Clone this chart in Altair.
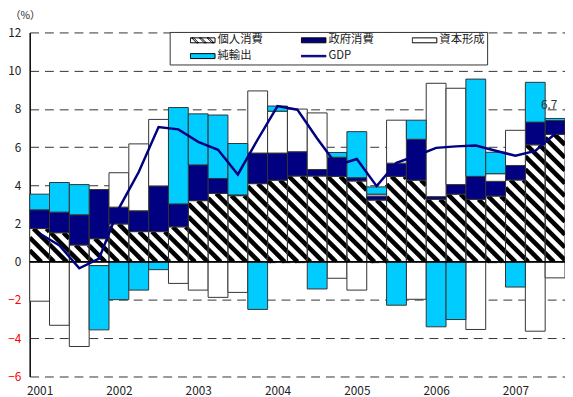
import altair as alt
import pandas as pd
import numpy as np

FONT = "Noto Sans CJK JP"

# ---- data (2001Q1 .. 2007Q3), contribution to growth, % ----
quarters = list(range(27))
series = ["個人消費", "政府消費", "資本形成", "純輸出"]
private_consumption = [1.74, 1.52, 0.88, 1.21, 1.98, 1.58, 1.58, 1.83, 3.20, 3.58,
                       3.46, 4.09, 4.27, 4.49, 4.49, 4.47, 4.23, 3.23, 4.47, 4.27,
                       3.27, 3.54, 3.27, 3.44, 4.28, 6.12, 6.67]
government_consumption = [0.98, 1.08, 1.58, 2.57, 0.88, 1.09, 2.39, 1.20, 1.87, 0.78,
                          0.04, 1.60, 1.42, 1.27, 0.34, 1.00, 0.17, 0.21, 0.69, 2.14,
                          0.14, 0.50, 1.20, 0.77, 0.76, 1.19, 0.72]
capital_formation = [-2.06, -3.32, -4.43, -0.20, 1.80, 3.50, 3.48, -1.13, -1.48, -1.86,
                     -1.60, 3.25, 2.19, 2.23, 2.96, -0.86, -1.48, 0.10, 2.25, -1.96,
                     5.93, 5.04, -3.54, 0.40, 1.84, -3.63, -0.84]
net_exports = [0.82, 1.55, 1.58, -3.36, -1.98, -1.48, -0.41, 5.04, 2.67, 3.32,
               2.69, -2.49, 0.27, 0.0, -1.42, 0.25, 2.41, 0.38, -2.27, 1.00,
               -3.40, -3.02, 5.09, 1.12, -1.32, 2.08, 0.11]
gdp = [1.48, 0.86, -0.34, 0.17, 2.80, 4.70, 7.05, 6.93, 6.28, 5.86,
       4.57, 6.40, 8.15, 7.96, 6.45, 5.05, 5.38, 3.96, 5.18, 5.55,
       5.96, 6.04, 6.08, 5.81, 5.55, 5.80, 6.70]
year_labels = [2001, 2002, 2003, 2004, 2005, 2006, 2007]
y_ticks = [-6, -4, -2, 0, 2, 4, 6, 8, 10, 12]

# ---- tables ----
cols = [private_consumption, government_consumption, capital_formation, net_exports]
rows = []
for order, (name, vals) in enumerate(zip(series, cols)):
    for q, v in zip(quarters, vals):
        rows.append({"q": q, "series": name, "value": v, "order": order})
df = pd.DataFrame(rows)
gdf = pd.DataFrame({"q": quarters, "gdp": gdp})

W, H = 543, 349
XMAX, YMIN, YMAX = len(quarters), -6, 12
sx = W / XMAX
sy = H / (YMAX - YMIN)
period = 13.0
hrows = []
for i, h in zip(quarters, private_consumption):
    if h <= 0:
        continue
    x0, x1 = i * sx, (i + 1) * sx
    yt, yb = (YMAX - h) * sy, YMAX * sy
    kmin = int(np.floor((yt - x1) / period)) - 1
    kmax = int(np.ceil((yb - x0) / period)) + 1
    for k in range(kmin, kmax + 1):
        c = k * period
        xa = max(x0, yt - c)
        xb = min(x1, yb - c)
        if xb - xa > 0.3:
            hrows.append({"hx": xa / sx, "hy": YMAX - (xa + c) / sy,
                          "hx2": xb / sx, "hy2": YMAX - (xb + c) / sy})
hdf = pd.DataFrame(hrows)

# ---- scales / axes / legend ----
x_scale = alt.Scale(domain=[0, XMAX], nice=False, zero=False)
y_scale = alt.Scale(domain=[YMIN, YMAX], nice=False, zero=False)
legend_domain = series + ["GDP"]
fill_scale = alt.Scale(domain=legend_domain,
                       range=["transparent", "#000080", "#ffffff", "#00ccff", "#000080"])
stroke_scale = alt.Scale(domain=legend_domain,
                         range=["#000000", "#000000", "#000000", "#000000", "#000080"])
rect = "M-1,-0.2L1,-0.2L1,0.2L-1,0.2Z"
stripes = "".join(
    f"M{c:.2f},-0.2L{c+0.16:.2f},-0.2L{c+0.56:.2f},0.2L{c+0.4:.2f},0.2Z"
    for c in (-0.9, -0.27, 0.36))
shape_scale = alt.Scale(domain=legend_domain,
                        range=[rect + stripes, rect, rect, rect,
                               "M-1,-0.06L1,-0.06L1,0.06L-1,0.06Z"])

leg = alt.Legend(
    title="あ", titleOrient="left", titlePadding=5, titleFont=FONT, titleFontSize=12,
    titleColor="#ffffff",
    orient="none", legendX=142, legendY=-0.5, columns=3, direction="horizontal",
    columnPadding=38.5, rowPadding=4, padding=2.5, clipHeight=12,
    symbolSize=625, symbolStrokeWidth=1,
    labelOffset=2, labelFont=FONT, labelFontSize=11.5, labelColor="#1a1a1a",
    labelExpr="datum.label == '資本形成' ? '資本形成\u3000' : datum.label",
    fillColor="white", strokeColor="#333333", symbolOpacity=1,
)

x_axis = alt.Axis(values=[4 * k + 0.5 for k in range(len(year_labels))],
                  labelExpr="'' + (2001 + floor(datum.value / 4))",
                  grid=False, ticks=False, domain=False, labelPadding=9,
                  labelFontSize=12, labelFont=FONT, labelColor="#222222", title=None)
y_axis = alt.Axis(values=y_ticks, grid=True, gridDash=[9, 6], gridColor="#333333",
                  gridWidth=1, domain=True, domainColor="#000000", domainWidth=1.5,
                  ticks=False, tickSize=0, labelPadding=9, labelFontSize=12, labelFont=FONT,
                  labelColor={"condition": {"test": "datum.value < 0", "value": "#ff0000"},
                              "value": "#222222"},
                  title="（%）", titleAngle=0, titleX=-5, titleY=-17, titleAlign="center",
                  titleBaseline="middle", titleFontWeight="normal", titleFontSize=10.5,
                  titleFont=FONT, titleColor="#222222", zindex=0)


def X(field):
    return alt.X(field, scale=x_scale, axis=x_axis)


def Y(field):
    return alt.Y(field, scale=y_scale, axis=y_axis)


stacked = (alt.Chart(df)
           .transform_filter("datum.value != 0")
           .transform_calculate(q1="datum.q + 1")
           .transform_stack(stack="value", groupby=["q"], as_=["y0", "y1"],
                            sort=[alt.SortField("order")]))

bars_bg = stacked.transform_filter(alt.datum.series == "個人消費").mark_bar(
    fill="white", strokeWidth=0).encode(
    x=X("q:Q"), x2="q1:Q", y=Y("y0:Q"), y2="y1:Q",
)

hatch = alt.Chart(hdf).mark_rule(color="black", strokeWidth=4.6, strokeCap="butt",
                                 clip=True).encode(
    x=X("hx:Q"), x2="hx2:Q", y=Y("hy:Q"), y2="hy2:Q",
)

bars = stacked.mark_bar(stroke="#333333", strokeWidth=1).encode(
    x=X("q:Q"), x2="q1:Q", y=Y("y0:Q"), y2="y1:Q",
    fill=alt.Fill("series:N", scale=fill_scale, legend=leg),
)

legend_layer = alt.Chart(df).transform_filter("false").mark_point(
    filled=True, opacity=1).encode(
    x=X("q:Q"), y=Y("value:Q"),
    fill=alt.Fill("series:N", scale=fill_scale, legend=leg),
    shape=alt.Shape("series:N", scale=shape_scale, legend=leg),
    stroke=alt.Stroke("series:N", scale=stroke_scale, legend=leg),
)

zero = alt.Chart(pd.DataFrame({"z": [0]})).mark_rule(
    color="black", strokeWidth=1.8).encode(y=Y("z:Q"))

line = alt.Chart(gdf).transform_calculate(xc="datum.q + 0.5").mark_line(
    color="#000080", strokeWidth=2.5).encode(x=X("xc:Q"), y=Y("gdp:Q"))

label = alt.Chart(gdf).transform_filter(f"datum.q == {quarters[-1]}").transform_calculate(
    xc="datum.q + 0.5").mark_text(dx=-6, dy=-29, fontSize=12, color="#333333",
                                  font=FONT).encode(
    x=X("xc:Q"), y=Y("gdp:Q"),
    text=alt.Text("gdp:Q", format=".1f"),
)

chart = alt.layer(bars_bg, hatch, bars, legend_layer, zero, line, label).properties(
    width=W, height=H,
    padding={"left": 22, "top": 22, "right": 0, "bottom": 18},
    autosize=alt.AutoSizeParams(type="none"),
).configure(font=FONT).configure_view(stroke=None)

chart.save("out.html", embed_options={"renderer": "svg", "actions": False})
